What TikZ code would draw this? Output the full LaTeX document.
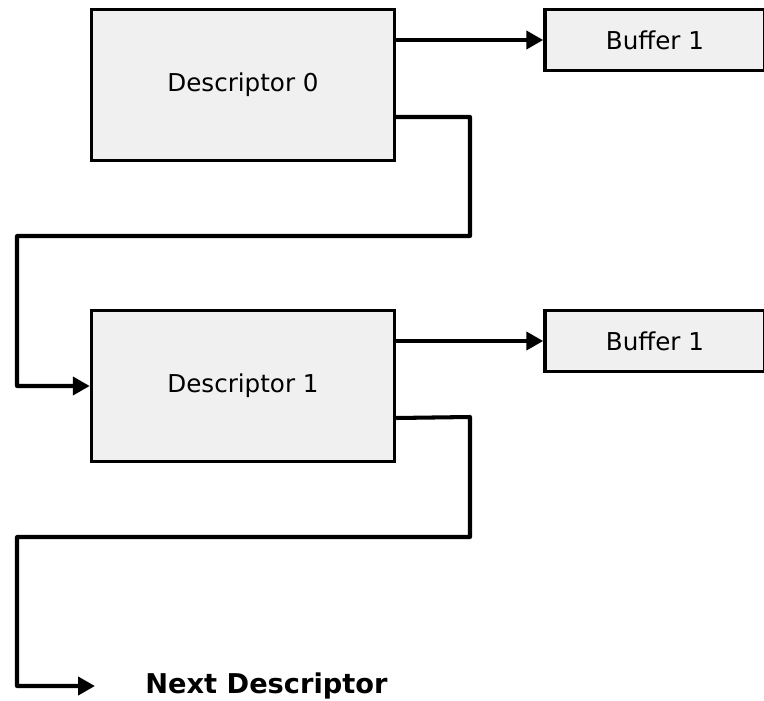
\documentclass[tikz,border=0pt]{standalone}
\usepackage{fontspec}
\setmainfont{DejaVu Sans}
\usetikzlibrary{arrows.meta}
\definecolor{boxgray}{HTML}{F0F0F0}

\begin{document}
\begin{tikzpicture}[x=0.02cm,y=-0.02cm,font=\fontsize{14}{16}\selectfont,
       desc/.style={draw,fill=boxgray,minimum width=6.06cm,minimum height=3.02cm,line width=2pt},
       buf/.style={draw,fill=boxgray,minimum width=4.4cm,minimum height=1.22cm,line width=2pt},
       link/.style={line width=2.3pt,-{Stealth[length=3.4mm,width=3.6mm,inset=0pt]}}]
      \useasboundingbox (0,0) rectangle (764,700);
      \node[desc] (D0) at (243,85) {Descriptor 0};
      \node[buf] (B0) at (655,40) {Buffer 1};
      \node[desc] (D1) at (243,386) {Descriptor 1};
      \node[buf] (B1) at (655,341) {Buffer 1};
      \node[font=\fontsize{15.5}{17}\selectfont\bfseries,anchor=west,inner sep=0pt] (N) at (145,686) {Next Descriptor};
      \draw[link] (D0.east |- B0.west) -- (B0.west);
      \draw[link] (D1.east |- B1.west) -- (B1.west);
      \draw[link,line join=round] ([yshift=-0.64cm]D0.east) -- (470,117) -- (470,236) -- (17,236) |- (D1.west);
      \draw[link,line join=round,shorten >=1cm] ([yshift=-0.64cm]D1.east) -- (470,417) -- (470,537) -- (17,537) |- (N.west);
    \end{tikzpicture}
\end{document}
